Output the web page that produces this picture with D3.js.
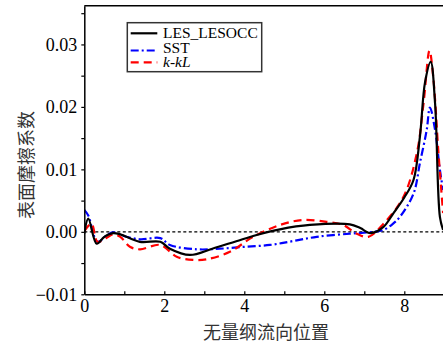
<!DOCTYPE html>
<html>
<head>
<meta charset="utf-8">
<script src="https://cdn.jsdelivr.net/npm/d3@7"></script>
<style>
html, body { margin: 0; padding: 0; background: #fff; }
svg { display: block; }
</style>
</head>
<body>
<svg id="chart" width="443" height="342"></svg>
<script>
// 数据：表面摩擦系数沿无量纲流向位置的分布
var seriesNames = ["LES_LESOCC", "SST", "k-kL"];

var lesX = [0, 0.1, 0.31, 0.5, 0.72, 0.9, 1.39, 1.9, 2.14, 2.64, 3.2, 3.8, 4.31, 4.89, 5.64, 6.64, 6.9, 7.15, 7.48, 7.73, 8.0, 8.23, 8.39, 8.52, 8.66, 8.77, 8.89, 8.97];
var lesY = [-0.0003, 0.0021, -0.0019, -0.0008, -0.0002, -0.0004, -0.0016, -0.0016, -0.0027, -0.0037, -0.0027, -0.0015, -0.0005, 0.0004, 0.0011, 0.0012, 0.0006, -0.0002, 0.0008, 0.003, 0.0055, 0.0083, 0.0152, 0.024, 0.0272, 0.0205, 0.0024, 0.0003];

var sstX = [0, 0.1, 0.33, 0.55, 0.72, 0.9, 1.39, 1.9, 2.14, 2.81, 3.39, 4.0, 4.64, 5.2, 5.81, 6.64, 7.23, 7.48, 7.7, 7.89, 8.23, 8.39, 8.56, 8.64, 8.77, 8.89, 8.97];
var sstY = [0.0035, 0.0026, -0.0016, -0.0006, -0.0001, -0.0005, -0.0012, -0.001, -0.0021, -0.0028, -0.0027, -0.0024, -0.0021, -0.0015, -0.0008, -0.0003, 0, 0.0003, 0.0012, 0.0024, 0.0061, 0.011, 0.0163, 0.0199, 0.0163, 0.0099, 0.0067];

var kklX = [0, 0.18, 0.33, 0.55, 0.72, 0.9, 1.14, 1.39, 1.9, 2.31, 2.72, 3.06, 3.64, 4.22, 4.89, 5.47, 6.06, 6.47, 6.81, 7.1, 7.48, 7.98, 8.31, 8.48, 8.63, 8.73, 8.85, 8.97];
var kklY = [0.0001, 0.0013, -0.0016, -0.001, -0.0004, -0.0008, -0.0024, -0.0028, -0.0021, -0.004, -0.0045, -0.0044, -0.0032, -0.0008, 0.0011, 0.0019, 0.0016, 0.0011, -0.0003, -0.0008, 0.0013, 0.0056, 0.0125, 0.0205, 0.029, 0.0243, 0.013, 0.003];

var xTicks = [0, 2, 4, 6, 8];
var yTicks = [-0.01, 0, 0.01, 0.02, 0.03];

var svg = d3.select("#chart");
var pLeft = 84.3, pRight = 444.3, pTop = 5.7, pBottom = 294.3;

var x = d3.scaleLinear().domain([0, 9]).range([pLeft, pRight]);
var y = d3.scaleLinear().domain([-0.01, 0.0362]).range([pBottom, pTop]);

svg.append("clipPath").attr("id", "clip")
	.append("rect").attr("x", pLeft).attr("y", pTop).attr("width", pRight - pLeft).attr("height", pBottom - pTop);

// 零线
svg.append("line")
	.attr("x1", pLeft).attr("x2", pRight)
	.attr("y1", y(0)).attr("y2", y(0))
	.attr("stroke", "#000").attr("stroke-width", 1.4)
	.attr("stroke-dasharray", "3,2.5");

var zip = function(xs, ys){ return xs.map(function(v, i){ return [v, ys[i]]; }); };

var series = [
	{ name: seriesNames[0], pts: zip(lesX, lesY), color: "#000", dash: null },
	{ name: seriesNames[1], pts: zip(sstX, sstY), color: "#0000ff", dash: "8,3,2,3" },
	{ name: seriesNames[2], pts: zip(kklX, kklY), color: "#ff0000", dash: "8,5" }
];

var line = d3.line()
	.x(function(d){ return x(d[0]); })
	.y(function(d){ return y(d[1]); })
	.curve(d3.curveCatmullRom.alpha(0.5));

var g = svg.append("g").attr("clip-path", "url(#clip)");
// 先画虚线，最后画实线
[series[1], series[2], series[0]].forEach(function(s){
	g.append("path")
		.attr("d", line(s.pts))
		.attr("fill", "none")
		.attr("stroke", s.color)
		.attr("stroke-width", 2.2)
		.attr("stroke-dasharray", s.dash);
});

// 坐标轴
var xAxis = d3.axisBottom(x).tickValues(d3.range(0, 10)).tickSizeInner(-3).tickSizeOuter(0)
	.tickFormat(function(d){ return xTicks.indexOf(d) >= 0 ? d : ""; });
var gx = svg.append("g").attr("transform", "translate(0," + pBottom + ")").call(xAxis);

var yAxis = d3.axisLeft(y).tickValues(d3.range(-0.01, 0.0351, 0.005)).tickSizeInner(3).tickSizeOuter(0)
	.tickFormat(function(d){
		var r = Math.round(d * 1000) / 1000;
		return yTicks.some(function(t){ return Math.abs(t - r) < 1e-9; }) ? d3.format(".2f")(r) : "";
	});
var gy = svg.append("g").attr("transform", "translate(" + pLeft + ",0)").call(yAxis);

[gx, gy].forEach(function(a){
	a.attr("font-family", null).attr("font-size", null);
	a.select(".domain").attr("stroke", "#000").attr("stroke-width", 1.5);
	a.selectAll(".tick line").attr("stroke", "#000").attr("stroke-width", 1.2);
	a.selectAll(".tick text")
		.attr("fill", "#000")
		.style("font-family", "'Liberation Serif', 'DejaVu Serif', serif")
		.style("font-size", "18px");
});
gx.selectAll(".tick text").attr("y", 5);
gy.selectAll(".tick text").attr("x", -7);

// 顶部边框
svg.append("line")
	.attr("x1", pLeft).attr("x2", pRight)
	.attr("y1", pTop).attr("y2", pTop)
	.attr("stroke", "#000").attr("stroke-width", 1.5);

// 轴标题
svg.append("text")
	.attr("x", 266).attr("y", 331)
	.attr("text-anchor", "middle").attr("dominant-baseline", "central")
	.attr("fill", "#333")
	.style("font-family", "'Noto Sans CJK SC', sans-serif")
	.style("font-size", "18px")
	.text("无量纲流向位置");

svg.append("text")
	.attr("transform", "translate(25,165) rotate(-90)")
	.attr("text-anchor", "middle").attr("dominant-baseline", "central")
	.attr("fill", "#333")
	.style("font-family", "'Noto Sans CJK SC', sans-serif")
	.style("font-size", "18px")
	.text("表面摩擦系数");

// 图例
var legend = svg.append("g");
legend.append("rect")
	.attr("x", 127.3).attr("y", 22.7).attr("width", 134.4).attr("height", 49)
	.attr("fill", "#fff").attr("stroke", "#333").attr("stroke-width", 1.5);

var legRows = [
	{ ly: 33.3, ty: 38.3, italic: false },
	{ ly: 50.5, ty: 53.3, italic: false },
	{ ly: 62.3, ty: 67.3, italic: true }
];
series.forEach(function(s, i){
	legend.append("line")
		.attr("x1", 130.7).attr("x2", 157.3)
		.attr("y1", legRows[i].ly).attr("y2", legRows[i].ly)
		.attr("stroke", s.color).attr("stroke-width", 2.2)
		.attr("stroke-dasharray", s.dash);
	legend.append("text")
		.attr("x", 163).attr("y", legRows[i].ty)
		.attr("fill", "#000")
		.style("font-family", "'Liberation Serif', serif")
		.style("font-size", "15.5px")
		.style("font-style", legRows[i].italic ? "italic" : "normal")
		.text(s.name);
});
</script>
</body>
</html>
